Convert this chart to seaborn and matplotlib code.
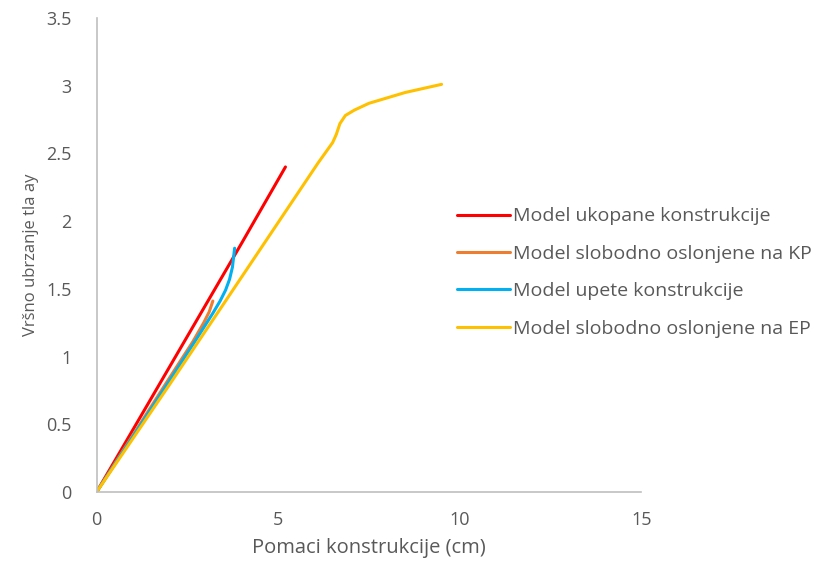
import pandas as pd
import matplotlib.pyplot as plt
import seaborn as sns

# %% data
red_x = [0, 1, 2, 3, 4, 5.2]
red_y = [0, 0.46, 0.92, 1.38, 1.84, 2.4]

orange_x = [0, 1, 2, 2.65, 2.95, 3.1, 3.2]
orange_y = [0, 0.42, 0.84, 1.11, 1.25, 1.33, 1.41]

blue_x = [0, 1, 2, 2.75, 3.2, 3.4, 3.55, 3.66, 3.74, 3.8]
blue_y = [0, 0.41, 0.82, 1.13, 1.32, 1.41, 1.49, 1.57, 1.66, 1.8]

yellow_x = [0, 2, 4, 6.1, 6.5, 6.6, 6.7, 6.85, 7.1, 7.5, 8.5, 9.5]
yellow_y = [0, 0.79, 1.59, 2.43, 2.58, 2.64, 2.72, 2.78, 2.82, 2.87, 2.95, 3.01]

names = ['Model ukopane konstrukcije', 'Model slobodno oslonjene na KP',
         'Model upete konstrukcije', 'Model slobodno oslonjene na EP']
colors = ['#FF0000', '#ED7D31', '#00B0F0', '#FFC000']

frames = []
for name, xs, ys in zip(names, [red_x, orange_x, blue_x, yellow_x],
                        [red_y, orange_y, blue_y, yellow_y]):
    frames.append(pd.DataFrame({'x': xs, 'y': ys, 'model': name}))
df = pd.concat(frames, ignore_index = True)

# %% plot
sns.set_style('white')
plt.rcParams['font.family'] = ['Open Sans', 'DejaVu Sans']

fig = plt.figure(figsize = (8.19, 5.62), dpi = 100)
ax = fig.add_axes([0.118, 0.1246, 0.665, 0.8434])

sns.lineplot(data = df, x = 'x', y = 'y', hue = 'model', hue_order = names,
             palette = dict(zip(names, colors)), sort = False, estimator = None,
             linewidth = 2.2, ax = ax)

ax.set_xlim(0, 15)
ax.set_ylim(0, 3.5)
ax.set_xticks([0, 5, 10, 15])
ax.set_yticks([0, 0.5, 1, 1.5, 2, 2.5, 3, 3.5])
ax.set_yticklabels(['0', '0.5', '1', '1.5', '2', '2.5', '3', '3.5'])
ax.tick_params(length = 0, labelsize = 13, colors = '#595959')
ax.tick_params(axis = 'y', pad = 18)
ax.tick_params(axis = 'x', pad = 14)

for s in ['top', 'right']:
    ax.spines[s].set_visible(False)
for s in ['left', 'bottom']:
    ax.spines[s].set_color('#BFBFBF')
    ax.spines[s].set_linewidth(1.2)

ax.set_xlabel('Pomaci konstrukcije (cm)', fontsize = 14.5, color = '#595959', labelpad = 6)
ax.set_ylabel('Vršno ubrzanje tla ay', fontsize = 12, color = '#595959', labelpad = 5)

ax.legend(loc = 'center left', bbox_to_anchor = (0.537, 0.515),
          bbox_transform = fig.transFigure, frameon = False, fontsize = 14,
          handlelength = 2.7, handletextpad = 0.15, labelspacing = 1.0,
          labelcolor = '#595959')

fig.savefig('out.png', dpi = 100)
